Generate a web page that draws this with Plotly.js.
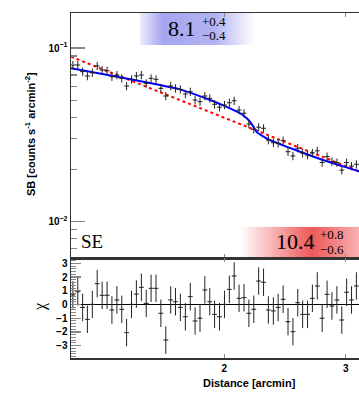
<!DOCTYPE html>
<html><head><meta charset="utf-8">
<script src="https://cdn.plot.ly/plotly-3.0.1.min.js"></script>
<style>html,body{margin:0;padding:0;background:#fff;overflow:hidden;width:359px;height:397px}#c{width:400px;height:397px}</style>
</head><body><div id="c"></div>
<script>
// ---- data ----
const distance = [1.206,1.226,1.246,1.266,1.287,1.308,1.330,1.352,1.374,1.397,1.420,1.443,1.467,1.491,1.516,1.541,1.566,1.592,1.618,1.645,1.672,1.699,1.727,1.756,1.785,1.814,1.844,1.874,1.905,1.936,1.968,2.001,2.034,2.067,2.101,2.136,2.171,2.207,2.243,2.280,2.317,2.356,2.394,2.434,2.474,2.515,2.556,2.598,2.641,2.684,2.728,2.773,2.819,2.865,2.913,2.961,3.009,3.059,3.109];
const sb = [0.0798,0.0798,0.0731,0.0690,0.0721,0.0788,0.0747,0.0740,0.0684,0.0699,0.0669,0.0604,0.0660,0.0690,0.0699,0.0626,0.0669,0.0660,0.0586,0.0529,0.0604,0.0586,0.0578,0.0543,0.0560,0.0502,0.0491,0.0529,0.0513,0.0474,0.0456,0.0470,0.0484,0.0497,0.0439,0.0421,0.0365,0.0340,0.0350,0.0345,0.0295,0.0285,0.0283,0.0293,0.0253,0.0239,0.0265,0.0248,0.0242,0.0249,0.0256,0.0219,0.0237,0.0222,0.0219,0.0198,0.0219,0.0209,0.0214];
const chi = [0.70,0.93,-0.21,-1.08,0.01,1.52,0.67,0.67,-0.40,0.33,-0.35,-2.05,0.01,0.76,1.25,0.08,1.18,1.18,-0.64,-2.59,0.33,0.20,-0.21,-0.89,0.57,-1.20,-1.00,1.06,0.20,-0.72,-0.89,0.01,1.10,2.08,0.45,0.50,-0.64,-0.35,1.71,1.62,-0.40,-0.47,-0.21,0.38,-1.25,-1.98,0.13,-0.72,-0.72,0.45,1.35,-1.00,0.74,-0.11,0.33,-1.13,0.89,0.33,1.35];
const modelX = [1.1985,1.4115,1.6135,1.7247,1.9072,2.000,2.1078,2.1555,2.1794,2.2035,2.2287,2.2533,2.3165,2.7806,3.148,3.364];
const modelY = [0.0764,0.0679,0.0612,0.0578,0.0502,0.0464,0.0421,0.0394,0.0375,0.0352,0.0328,0.0318,0.0298,0.02266,0.0194,0.01767];
const plX = [1.1985,2.0,3.364];
const plY = [0.0891,0.0397,0.01745];
const xTicks = [2,3];
const xTickText = ['2','3'];
const yTicks = [0.01,0.1];
const yTickText = ['10<sup>−2</sup>','10<sup>−1</sup>'];
const yMinor = [0.007,0.008,0.009,0.02,0.03,0.04,0.05,0.06,0.07,0.08,0.09,0.2];
const chiTicks = [-3,-2,-1,0,1,2,3];
const label1 = {main:'8.1', up:'+0.4', down:'−0.4'};
const label2 = {main:'10.4', up:'+0.8', down:'−0.6'};
const region = 'SE';

// ---- layout helpers (pixel geometry) ----
const L=71, R=380, T=13, B=358, W=400, H=397;
const fx = p => (p-L)/(R-L);
const fy = p => (B-p)/(B-T);
const split = fy(258);

const sans = 'Liberation Sans, Arial, sans-serif';
const serif = 'Liberation Serif, Times New Roman, serif';
const ink = 'rgb(35,35,35)';

function grad(stops){
  let s = '<svg xmlns="http://www.w3.org/2000/svg" width="100" height="10" viewBox="0 0 100 10" preserveAspectRatio="none"><defs><linearGradient id="g" x1="0" y1="0" x2="1" y2="0">';
  stops.forEach(st => s += '<stop offset="'+st[0]+'" stop-color="'+st[1]+'"/>');
  s += '</linearGradient></defs><rect width="100" height="10" fill="url(#g)"/></svg>';
  return 'data:image/svg+xml;charset=utf-8,' + encodeURIComponent(s);
}
function ann(text, px, py, font, extra){
  return Object.assign({text:text, xref:'paper', yref:'paper', x:fx(px), y:fy(py), xanchor:'center', yanchor:'middle', showarrow:false, borderpad:0, font:font}, extra||{});
}

const traces = [
  {x: plX, y: plY, mode:'lines', line:{color:'#ff0000', width:2, dash:'3px,3px'}, xaxis:'x', yaxis:'y', hoverinfo:'skip'},
  {x: modelX, y: modelY, mode:'lines', line:{color:'#0000ff', width:2, shape:'spline', smoothing:0.6}, xaxis:'x', yaxis:'y', hoverinfo:'skip'},
  {x: distance, y: sb, mode:'markers', marker:{size:1, color:ink},
   error_y:{type:'percent', value:5.5, color:ink, thickness:1, width:0},
   error_x:{type:'percent', value:0.82, color:ink, thickness:1, width:0}, xaxis:'x', yaxis:'y'},
  {x: distance, y: chi, mode:'markers', marker:{size:1, color:ink},
   error_y:{type:'constant', value:1, color:ink, thickness:1, width:0},
   error_x:{type:'percent', value:0.82, color:ink, thickness:1, width:0}, xaxis:'x2', yaxis:'y2'}
];

const xr = [Math.log10(1.1985), Math.log10(3.364)];
const axBase = {showline:true, linecolor:'#333', linewidth:1.5, mirror:'ticks', showgrid:false, zeroline:false,
  ticks:'inside', tickcolor:'#888', tickwidth:1.2, automargin:false,
  tickfont:{family:sans, size:10, color:'#000', weight:'bold'}};

const tFont = {family:sans, size:11, color:'#000', weight:'bold'};
const layout = {
  width:W, height:H, margin:{l:L, r:W-R, t:T, b:H-B, autoexpand:false},
  paper_bgcolor:'#fff', plot_bgcolor:'rgba(0,0,0,0)', showlegend:false,
  xaxis: Object.assign({}, axBase, {type:'log', range:xr, domain:[0,1], anchor:'y', tickvals:xTicks, ticklen:4, showticklabels:false}),
  yaxis: Object.assign({}, axBase, {type:'log', domain:[split,1], anchor:'x', range:[-2.209,-0.7985],
    tickmode:'array', tickvals:yTicks, ticktext:yTickText, ticklen:14,
    minor:{tickmode:'array', tickvals:yMinor, ticks:'inside', ticklen:6, tickcolor:'#888', tickwidth:1.2}}),
  xaxis2: Object.assign({}, axBase, {type:'log', range:xr, domain:[0,1], anchor:'y2', tickvals:xTicks, ticktext:xTickText, ticklen:4}),
  yaxis2: Object.assign({}, axBase, {domain:[0,split], anchor:'x2', range:[-3.897,3.387],
    tickmode:'array', tickvals:chiTicks, ticklen:10, zeroline:true, zerolinecolor:'#000', zerolinewidth:1,
    minor:{dtick:0.2, ticks:'inside', ticklen:5, tickcolor:'#888', tickwidth:1}}),
  images:[
    {source: grad([[0,'rgb(236,236,252)'],[0.2,'rgb(165,165,240)'],[0.65,'rgb(178,178,242)'],[1,'rgb(255,255,255)']]),
     xref:'paper', yref:'paper', x:fx(140), y:fy(13), sizex:115/(R-L), sizey:32/(B-T), xanchor:'left', yanchor:'top', sizing:'stretch', layer:'below'},
    {source: grad([[0,'rgb(255,255,255)'],[0.45,'rgb(238,88,88)'],[1,'rgb(255,255,255)']]),
     xref:'paper', yref:'paper', x:fx(240), y:fy(226.7), sizex:160/(R-L), sizey:31.3/(B-T), xanchor:'left', yanchor:'top', sizing:'stretch', layer:'below'}
  ],
  annotations:[
    ann('SB [counts s<sup>-1</sup> arcmin<sup>-2</sup>]', 30, 134, tFont, {textangle:-90}),
    ann('χ', 40, 307, {family:serif, size:16, color:'#000'}, {textangle:-90}),
    ann('Distance [arcmin]', 249.5, 383, tFont),
    ann(region, 91.5, 241, {family:serif, size:19, color:'#000'}),
    ann(label1.main, 181.5, 28.5, {family:serif, size:22, color:'#000'}),
    ann(label1.up, 214, 21, {family:serif, size:13, color:'#000'}),
    ann(label1.down, 214, 35.5, {family:serif, size:13, color:'#000'}),
    ann(label2.main, 295, 241, {family:serif, size:22, color:'#000'}),
    ann(label2.up, 332, 234, {family:serif, size:13, color:'#000'}),
    ann(label2.down, 332, 249, {family:serif, size:13, color:'#000'})
  ]
};
Plotly.newPlot('c', traces, layout, {displayModeBar:false, staticPlot:true});
</script></body></html>
